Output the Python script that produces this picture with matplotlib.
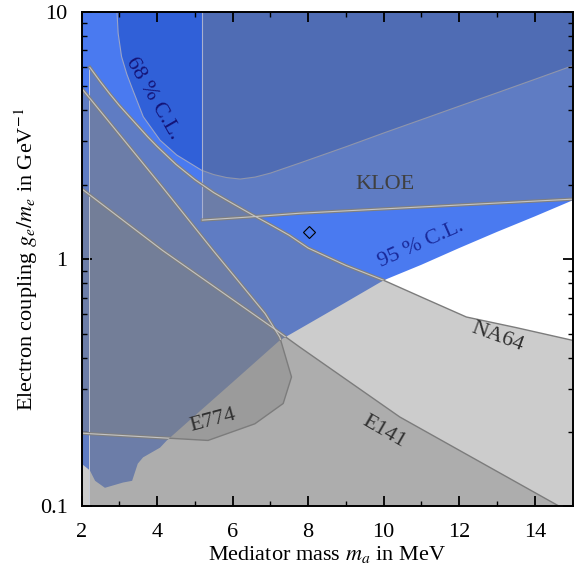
import matplotlib
matplotlib.use('Agg')
import matplotlib.pyplot as plt
from matplotlib.patches import Polygon

plt.rcParams['font.family'] = ['Liberation Serif', 'DejaVu Serif']
plt.rcParams['mathtext.fontset'] = 'stix'
plt.rcParams['font.size'] = 16

# 95 % C.L. region: lower boundary (top is y = 10)
cl95_x = [2.0, 2.22, 2.36, 2.62, 3.1, 3.34, 3.49, 3.63, 4.08, 4.26, 5.0, 6.0, 7.25, 8.0, 9.0, 10.0, 11.0, 12.0, 13.0, 14.0, 15.0]
cl95_y = [0.149, 0.140, 0.127, 0.119, 0.125, 0.127, 0.149, 0.158, 0.173, 0.185, 0.233, 0.318, 0.47, 0.547, 0.67, 0.822, 0.95, 1.11, 1.29, 1.49, 1.73]

# 68 % C.L. region: lower boundary
cl68_x = [2.94, 2.97, 3.06, 3.2, 3.36, 3.635, 4.08, 4.52, 5.18, 5.5, 5.84, 6.2, 6.6, 7.0, 7.78, 9.0, 10.0, 11.0, 12.0, 13.0, 14.0, 15.0]
cl68_y = [10.0, 8.2, 6.6, 5.6, 4.83, 3.77, 3.03, 2.64, 2.29, 2.2, 2.14, 2.11, 2.15, 2.23, 2.45, 2.85, 3.24, 3.67, 4.16, 4.71, 5.34, 6.06]

# upper edge of the NA64 exclusion (left part and NA64 curve)
na64_x = [2.22, 2.5, 2.75, 3.0, 3.25, 3.5, 3.75, 4.0, 4.5, 5.0, 5.5, 6.0, 6.5, 7.0, 7.5, 8.0, 9.0, 10.0, 11.09, 12.19, 13.51, 15.0]
na64_y = [5.97, 5.22, 4.66, 4.19, 3.80, 3.45, 3.13, 2.86, 2.42, 2.10, 1.86, 1.68, 1.52, 1.38, 1.25, 1.11, 0.944, 0.822, 0.693, 0.584, 0.529, 0.47]

# E774 closed contour
e774_x = [2.0, 4.15, 5.48, 6.86, 7.25, 7.56, 7.34, 6.59, 5.35, 2.22, 2.0]
e774_y = [4.92, 1.95, 1.087, 0.603, 0.484, 0.334, 0.261, 0.216, 0.185, 0.197, 0.198]

# E141 upper edge
e141_x = [2.0, 4.14, 7.16, 7.78, 10.43, 14.66]
e141_y = [1.93, 1.087, 0.516, 0.441, 0.23, 0.1]

# KLOE lower edge
kloe_x = [5.2, 6.38, 7.78, 15.0]
kloe_y = [1.44, 1.48, 1.535, 1.75]

bench_x, bench_y = 8.02, 1.285

blue95 = '#4a7af0'
blue68 = '#3060d8'
shade = (0.5, 0.5, 0.5, 0.4)

fig = plt.figure(figsize=(5.74, 5.77), dpi=100)
ax = fig.add_axes([0.142, 0.1222, 0.8554, 0.857])
ax.set_yscale('log')
ax.set_xlim(2, 15)
ax.set_ylim(0.1, 10)

p95 = Polygon(list(zip(cl95_x, cl95_y)) + [(15, 10), (2, 10)], closed=True,
              facecolor=blue95, edgecolor='none', zorder=1)
ax.add_patch(p95)
ax.add_patch(Polygon(list(zip(cl68_x, cl68_y)) + [(15, 10)], closed=True,
                     facecolor=blue68, edgecolor='none', zorder=1.1))
ax.plot(cl68_x, cl68_y, color='#9aa4c8', lw=0.8, zorder=1.2)

# grey exclusion regions
ax.add_patch(Polygon([(2.2, 0.1)] + list(zip(na64_x, na64_y)) + [(15, 0.1)], closed=True,
                     facecolor=shade, edgecolor='none', zorder=1.5))
ax.add_patch(Polygon(list(zip(e774_x, e774_y)), closed=True,
                     facecolor=shade, edgecolor='none', zorder=1.5))
ax.add_patch(Polygon([(2, 0.1)] + list(zip(e141_x, e141_y)), closed=True,
                     facecolor=shade, edgecolor='none', zorder=1.5))
ax.add_patch(Polygon([(5.2, 10)] + list(zip(kloe_x, kloe_y)) + [(15, 10)], closed=True,
                     facecolor=shade, edgecolor='none', zorder=1.5))
ax.plot([2.2, 2.2], [0.1, na64_y[0]], color='#c8ccd8', lw=0.7, zorder=1.6)
ax.plot([5.2, 5.2], [kloe_y[0], 10], color='#a8b0d0', lw=0.8, zorder=1.6)

# boundary lines, doubled where they lie inside the 95 % region
for xs, ys in [(na64_x, na64_y), (e774_x, e774_y), (e141_x, e141_y), (kloe_x, kloe_y)]:
    ax.plot(xs, ys, color='#7c7c7c', lw=1.0, zorder=2)
    outer, = ax.plot(xs, ys, color='#808080', lw=2.4, zorder=2.05)
    outer.set_clip_path(p95)
    inner, = ax.plot(xs, ys, color='#c4c4c4', lw=0.8, zorder=2.1)
    inner.set_clip_path(p95)

ax.plot(bench_x, bench_y, marker='D', ms=6, mfc='none', mec='black', mew=0.8, zorder=3)

ax.text(3.89, 4.49, '68 % C.L.', rotation=-60, color='#141478', ha='center', va='center')
ax.text(11.0, 1.15, '95 % C.L.', rotation=24, color='#1a2a9a', ha='center', va='center')
ax.text(10.03, 2.01, 'KLOE', color='#404040', ha='center', va='center')
ax.text(13.02, 0.483, 'NA64', rotation=-20, color='#303030', ha='center', va='center')
ax.text(10.0, 0.201, 'E141', rotation=-30, color='#303030', ha='center', va='center')
ax.text(5.48, 0.223, 'E774', rotation=15, color='#303030', ha='center', va='center')

ax.set_xticks([2, 4, 6, 8, 10, 12, 14])
ax.set_xticks(range(3, 15, 2), minor=True)
ax.set_yticks([0.1, 1, 10])
ax.set_yticklabels(['0.1', '1', '10'])
ax.tick_params(which='both', direction='in', top=True, right=True, labelsize=16)
ax.tick_params(which='major', length=7, width=1.3)
ax.tick_params(which='minor', length=3.5, width=1.0)
ax.tick_params(axis='x', which='major', pad=12)
ax.tick_params(axis='y', which='major', pad=10)
for s in ax.spines.values():
    s.set_linewidth(1.4)

ax.set_xlabel('Mediator mass $m_a$ in MeV', fontsize=16, labelpad=1)
ax.set_ylabel('Electron coupling $g_e/m_e$ in GeV$^{-1}$', fontsize=16, labelpad=0)

fig.savefig('out.png', dpi=100)
